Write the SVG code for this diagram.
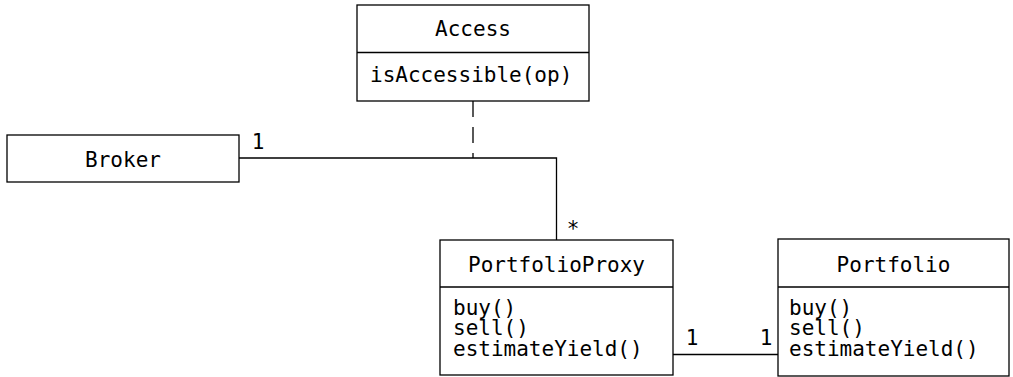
<svg xmlns="http://www.w3.org/2000/svg" width="1013" height="377" viewBox="0 0 1013 377">
<style>
.box{fill:#fff;stroke:#000;stroke-width:1.3}
.ln{fill:none;stroke:#000;stroke-width:1.3}
.t{font-family:"DejaVu Sans Mono","Liberation Mono",monospace;font-size:21px;fill:#000}
.c{text-anchor:middle}
</style>
<rect width="1013" height="377" fill="#fff"/>
<g id="connectors">
<polyline class="ln" points="239,158 556.5,158 556.5,240"/>
<line class="ln" x1="473" y1="101" x2="473" y2="158" stroke-dasharray="16,10"/>
<line class="ln" x1="673" y1="354.5" x2="778" y2="354.5"/>
<text class="t c" x="258" y="149">1</text>
<text class="t c" x="573" y="236">*</text>
<text class="t c" x="692" y="345">1</text>
<text class="t c" x="766" y="345">1</text>
</g>
<g id="access">
<rect class="box" x="357" y="5" width="232" height="96"/>
<line class="ln" x1="357" y1="52.5" x2="589" y2="52.5"/>
<text class="t c" x="473" y="36">Access</text>
<text class="t" x="370" y="82">isAccessible(op)</text>
</g>
<g id="broker">
<rect class="box" x="7" y="135" width="232" height="47"/>
<text class="t c" x="123" y="167">Broker</text>
</g>
<g id="portfolioproxy">
<rect class="box" x="440" y="240" width="233" height="135"/>
<line class="ln" x1="440" y1="287" x2="673" y2="287"/>
<text class="t c" x="556.5" y="272">PortfolioProxy</text>
<text class="t"><tspan x="453" y="314.5">buy()</tspan><tspan x="453" y="335">sell()</tspan><tspan x="453" y="355.5">estimateYield()</tspan></text>
</g>
<g id="portfolio">
<rect class="box" x="778" y="239" width="231" height="137"/>
<line class="ln" x1="778" y1="287" x2="1009" y2="287"/>
<text class="t c" x="893.5" y="272">Portfolio</text>
<text class="t"><tspan x="789" y="314.5">buy()</tspan><tspan x="789" y="335">sell()</tspan><tspan x="789" y="355.5">estimateYield()</tspan></text>
</g>
</svg>
